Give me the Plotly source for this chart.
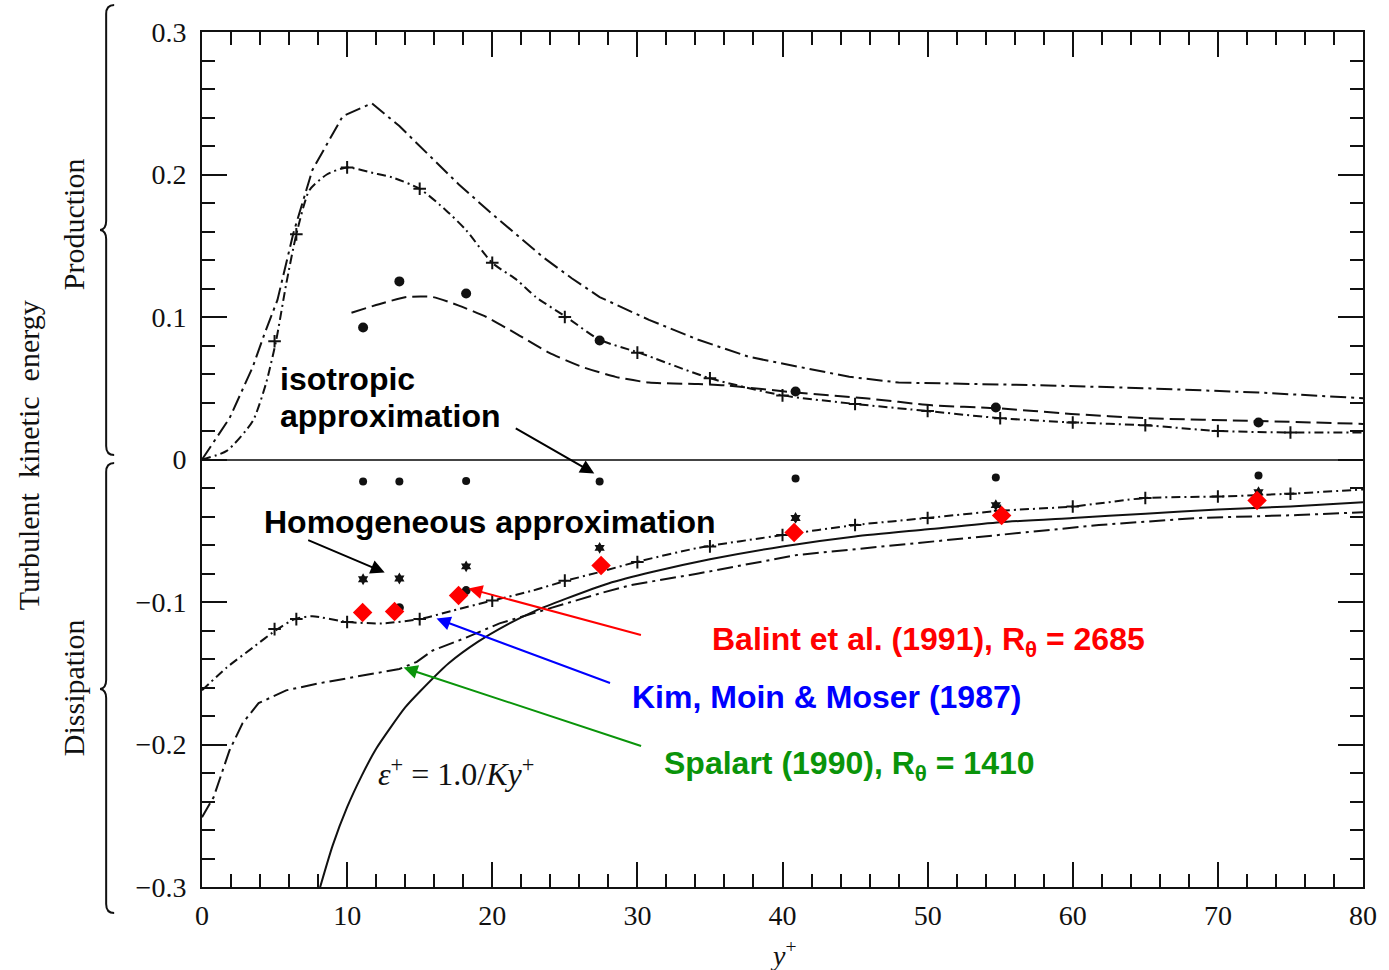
import plotly.graph_objects as go

# ---- Production of turbulent kinetic energy ----
spalart_prod_x = [0, 1.9, 3.5, 4.3, 5.2, 6.3, 7.6, 9.7, 11.7, 13.6, 15.5, 17.7, 19.8, 21.4,
                  23.5, 25.5, 27.4, 30.8, 34.2, 37.7, 41.1, 44.6, 48, 53.7, 58.3, 65, 72.8, 80]
spalart_prod_y = [0, 0.029, 0.065, 0.088, 0.112, 0.159, 0.203, 0.241, 0.250, 0.234, 0.215,
                  0.193, 0.174, 0.160, 0.142, 0.127, 0.114, 0.098, 0.084, 0.072, 0.065, 0.058,
                  0.054, 0.053, 0.052, 0.050, 0.047, 0.043]

kmm_prod_x = [0, 1.7, 3.5, 4.4, 5.1, 5.8, 6.5, 7.4, 8.6, 10, 11.8, 13.1, 15, 16.8, 18.2, 20,
              21.7, 23, 25.1, 27.4, 30.1, 35, 40, 45, 50, 55, 60, 65, 70, 75, 80]
kmm_prod_y = [0, 0.006, 0.027, 0.053, 0.083, 0.123, 0.158, 0.189, 0.200, 0.205, 0.201,
              0.198, 0.190, 0.175, 0.161, 0.138, 0.126, 0.114, 0.100, 0.084, 0.075, 0.057,
              0.045, 0.039, 0.034, 0.029, 0.026, 0.024, 0.020, 0.019, 0.019]
kmm_prod_mark_x = [5, 6.5, 10, 15, 20, 25, 30, 35, 40, 45, 50, 55, 60, 65, 70, 75]
kmm_prod_mark_y = [0.083, 0.158, 0.205, 0.190, 0.138, 0.100, 0.075, 0.057, 0.045, 0.039,
                   0.034, 0.029, 0.026, 0.024, 0.020, 0.019]

model_prod_x = [10.3, 12.2, 14.1, 15.9, 17.7, 19.6, 21.7, 23.9, 26.2, 28.5, 30.8, 34.2,
                36.1, 40.9, 45.7, 50.3, 54.7, 59.9, 65, 72.8, 80]
model_prod_y = [0.103, 0.109, 0.114, 0.114, 0.108, 0.100, 0.088, 0.075, 0.065, 0.058,
                0.054, 0.053, 0.052, 0.047, 0.043, 0.038, 0.036, 0.032, 0.029, 0.027, 0.025]

dots_x = [11.1, 13.6, 18.2, 27.4, 40.9, 54.7, 72.8]
prod_dots_y = [0.0926, 0.125, 0.1165, 0.0835, 0.0477, 0.0365, 0.026]

# ---- Dissipation ----
iso_diss_y = [-0.0154, -0.0154, -0.015, -0.0154, -0.0133, -0.0126, -0.0112]
homog_diss_y = [-0.084, -0.0835, -0.075, -0.062, -0.041, -0.032, -0.023]
dns_diss_x = [13.6, 18.2]
dns_diss_y = [-0.104, -0.092]

kmm_diss_x = [0, 1.7, 3.5, 5.2, 6.4, 7.6, 10, 12.4, 15, 17.3, 20, 22.8, 25.1, 27.4, 29.9,
              34.2, 40, 45, 50, 55, 60, 65, 70, 75, 80]
kmm_diss_y = [-0.162, -0.146, -0.132, -0.119, -0.112, -0.110, -0.114, -0.115, -0.112,
              -0.106, -0.099, -0.092, -0.085, -0.079, -0.072, -0.062, -0.053, -0.046,
              -0.041, -0.036, -0.033, -0.027, -0.026, -0.024, -0.021]
kmm_diss_mark_x = [5, 6.5, 10, 15, 20, 25, 30, 35, 40, 45, 50, 55, 60, 65, 70, 75]
kmm_diss_mark_y = [-0.119, -0.112, -0.114, -0.112, -0.099, -0.085, -0.072, -0.061, -0.053,
                   -0.046, -0.041, -0.036, -0.033, -0.027, -0.026, -0.024]

spalart_diss_x = [0, 0.8, 1.9, 2.8, 3.9, 5.8, 8.1, 10.9, 13.6, 14.8, 15.9, 18.2, 20.5,
                  22.8, 25.1, 27.4, 29.6, 34.2, 41, 48, 54.9, 61.8, 68.6, 75.5, 80]
spalart_diss_y = [-0.251, -0.237, -0.204, -0.185, -0.171, -0.162, -0.157, -0.152, -0.147,
                  -0.142, -0.134, -0.125, -0.115, -0.108, -0.101, -0.094, -0.088, -0.080,
                  -0.067, -0.060, -0.053, -0.046, -0.041, -0.039, -0.037]

# eps+ = 1.0/(K y+)
loglaw_x = [8, 9, 10, 11, 12, 13, 14, 15, 17, 19, 21, 23, 25, 28, 31, 35, 40, 45, 50, 55,
            60, 65, 70, 75, 80]
loglaw_y = [-0.305, -0.271, -0.244, -0.222, -0.203, -0.188, -0.174, -0.163, -0.143, -0.128,
            -0.116, -0.106, -0.098, -0.087, -0.079, -0.070, -0.061, -0.054, -0.049, -0.044,
            -0.041, -0.038, -0.035, -0.033, -0.030]

balint_x = [11.07, 13.27, 17.68, 27.5, 40.8, 55.1, 72.7]
balint_y = [-0.1074, -0.1067, -0.0954, -0.0744, -0.0512, -0.0393, -0.0288]

INK = "#111111"
LONG_DASH_DOT = "16px,5px,3px,5px"
DASH_DOT = "9px,4px,2px,4px"
LONG_DASH = "15px,6px"

fig = go.Figure()


def curve(x, y, dash, shape="linear", width=2):
    fig.add_trace(go.Scatter(x=x, y=y, mode="lines", line=dict(color=INK, width=width,
                             dash=dash, shape=shape, smoothing=0.6), hoverinfo="skip"))


def points(x, y, symbol, size, color=INK, lw=0):
    fig.add_trace(go.Scatter(x=x, y=y, mode="markers",
                             marker=dict(symbol=symbol, size=size, color=color,
                                         line=dict(color=color, width=lw)),
                             hoverinfo="skip"))


curve(spalart_prod_x, spalart_prod_y, LONG_DASH_DOT)
curve(kmm_prod_x, kmm_prod_y, DASH_DOT, "spline")
curve(model_prod_x, model_prod_y, LONG_DASH, "spline")
curve(kmm_diss_x, kmm_diss_y, DASH_DOT, "spline")
curve(spalart_diss_x, spalart_diss_y, LONG_DASH_DOT)
curve(loglaw_x, loglaw_y, "solid", "spline")

points(kmm_prod_mark_x, kmm_prod_mark_y, "cross-thin", 9, lw=2)
points(kmm_diss_mark_x, kmm_diss_mark_y, "cross-thin", 9, lw=2)
points(dots_x, prod_dots_y, "circle", 10)
points(dots_x, iso_diss_y, "circle", 8)
points(dots_x, homog_diss_y, "hexagram", 9)
points(dns_diss_x, dns_diss_y, "circle", 9)
points(balint_x, balint_y, "diamond", 15, color="#ff0000")

# ---- layout geometry (pixels) ----
W, H = 1389, 970
L, R, T, B = 202, 24, 32, 83
PW, PH = W - L - R, H - T - B


def px(x, y):
    return (x - L) / PW, (H - B - y) / PH


def brace(top, tip, bottom):
    xs, xv, xt = 114, 106, 100
    pts = [(xs, top), (xv, top), (xv, top + 9), (xv, tip - 9), (xv, tip - 1), (xt, tip),
           (xv, tip + 1), (xv, tip + 9), (xv, bottom - 9), (xv, bottom), (xs, bottom)]
    p = [px(*q) for q in pts]
    f = lambda q: f"{q[0]:.5f},{q[1]:.5f}"
    return (f"M {f(p[0])} Q {f(p[1])} {f(p[2])} L {f(p[3])} Q {f(p[4])} {f(p[5])} "
            f"Q {f(p[6])} {f(p[7])} L {f(p[8])} Q {f(p[9])} {f(p[10])}")


shapes = [
    dict(type="path", xref="paper", yref="paper", path=brace(5, 230, 455),
         line=dict(color=INK, width=2)),
    dict(type="path", xref="paper", yref="paper", path=brace(463, 689, 913),
         line=dict(color=INK, width=2)),
]

SERIF = "Liberation Serif"
SANS = "Liberation Sans"
annotations = []


def side_label(text, xp, yp, size=30):
    x, y = px(xp, yp)
    annotations.append(dict(text=text, xref="paper", yref="paper", x=x, y=y, textangle=-90,
                            showarrow=False, xanchor="center", yanchor="middle",
                            font=dict(family=SERIF, size=size, color=INK)))


side_label("Turbulent  kinetic  energy", 28, 455)
side_label("Production", 73, 224)
side_label("Dissipation", 73, 688)

xt, yt = px(785, 953)
annotations.append(dict(text="<i>y</i><sup>+</sup>", xref="paper", yref="paper", x=xt, y=yt,
                        showarrow=False, xanchor="center", yanchor="middle",
                        font=dict(family=SERIF, size=28, color=INK)))


def note(text, x, y, color="black", size=32, family=SANS):
    annotations.append(dict(text=text, x=x, y=y, xref="x", yref="y", showarrow=False,
                            xanchor="left", yanchor="middle", align="left",
                            font=dict(family=family, size=size, color=color)))


def arrow(x, y, ax, ay, color):
    annotations.append(dict(text="", x=x, y=y, xref="x", yref="y", ax=ax, ay=ay,
                            showarrow=True, arrowhead=2, arrowsize=1.4, arrowwidth=2,
                            arrowcolor=color, standoff=0))


note("<b>isotropic</b>", 5.25, 0.0568)
note("<b>approximation</b>", 5.25, 0.0302)
note("<b>Homogeneous approximation</b>", 4.15, -0.0442)
note("<b>Balint et al. (1991), R<sub>θ</sub> = 2685</b>", 35.0, -0.1275, "#ff0000")
note("<b>Kim, Moin &amp; Moser (1987)</b>", 29.5, -0.167, "#0000ff")
note("<b>Spalart (1990), R<sub>θ</sub> = 1410</b>", 31.7, -0.2145, "#0a940a")
note("<i>ε</i><sup>+</sup> = 1.0/<i>Ky</i><sup>+</sup>", 12.0, -0.2196, INK, 32, SERIF)

arrow(27.03, -0.0098, -80, -46, "black")
arrow(12.59, -0.0793, -78, -33, "black")
arrow(18.36, -0.0905, 174, 47, "#ff0000")
arrow(16.16, -0.1116, 175, 65, "#0000ff")
arrow(13.89, -0.146, 239, 79, "#0a940a")

axis_common = dict(showline=True, linecolor=INK, linewidth=2, mirror="ticks", ticks="inside",
                   ticklen=25, tickwidth=2, tickcolor=INK, showgrid=False,
                   tickfont=dict(family=SERIF, size=28, color=INK))

fig.update_layout(
    width=W, height=H, margin=dict(l=L, r=R, t=T, b=B),
    paper_bgcolor="white", plot_bgcolor="white", showlegend=False,
    shapes=shapes, annotations=annotations,
    xaxis=dict(range=[0, 80], tickmode="linear", tick0=0, dtick=10, zeroline=False,
               ticklabelstandoff=2,
               minor=dict(dtick=2, tick0=0, ticks="inside", ticklen=13, tickwidth=2,
                          tickcolor=INK), **axis_common),
    yaxis=dict(range=[-0.3, 0.3], tickmode="array",
               tickvals=[-0.3, -0.2, -0.1, 0, 0.1, 0.2, 0.3],
               ticktext=["\u22120.3", "\u22120.2", "\u22120.1", "0", "0.1", "0.2", "0.3"],
               zeroline=True, zerolinecolor="#444444", zerolinewidth=2,
               ticklabelstandoff=8,
               minor=dict(dtick=0.02, tick0=0, ticks="inside", ticklen=13, tickwidth=2,
                          tickcolor=INK), **axis_common),
)

fig.write_html("out.html")
